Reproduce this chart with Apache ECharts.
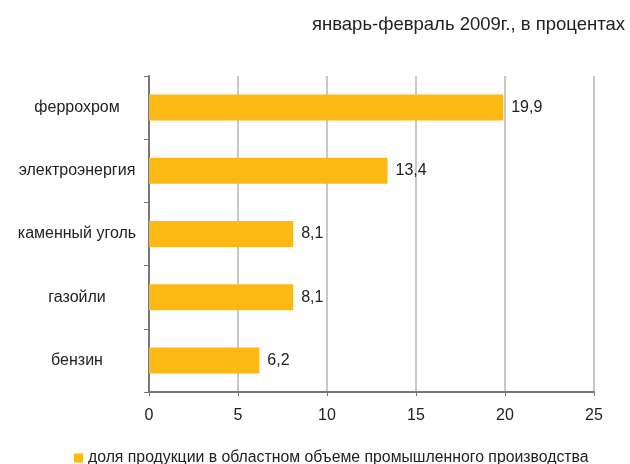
<!DOCTYPE html>
<html><head><meta charset="utf-8">
<script src="https://cdn.jsdelivr.net/npm/echarts@6/dist/echarts.min.js"></script>
<style>html,body{margin:0;padding:0;background:#fff}#c{width:630px;height:464px}</style>
</head><body><div id="c"></div>
<script>
const categories = ['феррохром','электроэнергия','каменный уголь','газойли','бензин'];
const values = [19.9, 13.4, 8.1, 8.1, 6.2];
const seriesName = 'доля продукции в областном объеме промышленного производства';
const titleText = 'январь-февраль 2009г., в процентах';
const xTicks = [0,5,10,15,20,25];

const chart = echarts.init(document.getElementById('c'));
chart.setOption({
  animation:false,
  textStyle:{fontFamily:'Liberation Sans, Arial, sans-serif'},
  title:{text:titleText,right:5,top:15,padding:0,textStyle:{fontSize:18.5,fontWeight:'normal',color:'#222',fontFamily:'Liberation Sans, Arial, sans-serif'}},
  legend:{data:[seriesName],left:69,top:445,icon:'rect',itemWidth:9,itemHeight:9,itemGap:4,
    textStyle:{fontSize:15.8,color:'#222'}},
  grid:{left:149,right:36,top:76,bottom:72},
  xAxis:{type:'value',min:xTicks[0],max:xTicks[xTicks.length-1],interval:5,
    axisLine:{show:true,lineStyle:{color:'#777',width:2}},
    axisTick:{show:true,length:4,lineStyle:{color:'#777'}},
    axisLabel:{fontSize:16,color:'#222',margin:16,formatter:v=>String(v)},
    splitLine:{show:true,lineStyle:{color:'#c8c8c8',width:2}}},
  yAxis:{type:'category',data:categories.slice().reverse(),
    axisLine:{show:true,lineStyle:{color:'#777',width:2}},
    axisTick:{show:true,length:5,lineStyle:{color:'#777'}},
    axisLabel:{fontSize:16,color:'#222',align:'center',margin:72}},
  series:[{name:seriesName,type:'bar',data:values.slice().reverse(),barWidth:26,
    itemStyle:{color:'#FDB813'},
    label:{show:true,position:'right',distance:8,fontSize:16,color:'#222',
      formatter:p=>String(p.value).replace('.',',')}}]
});
</script></body></html>
